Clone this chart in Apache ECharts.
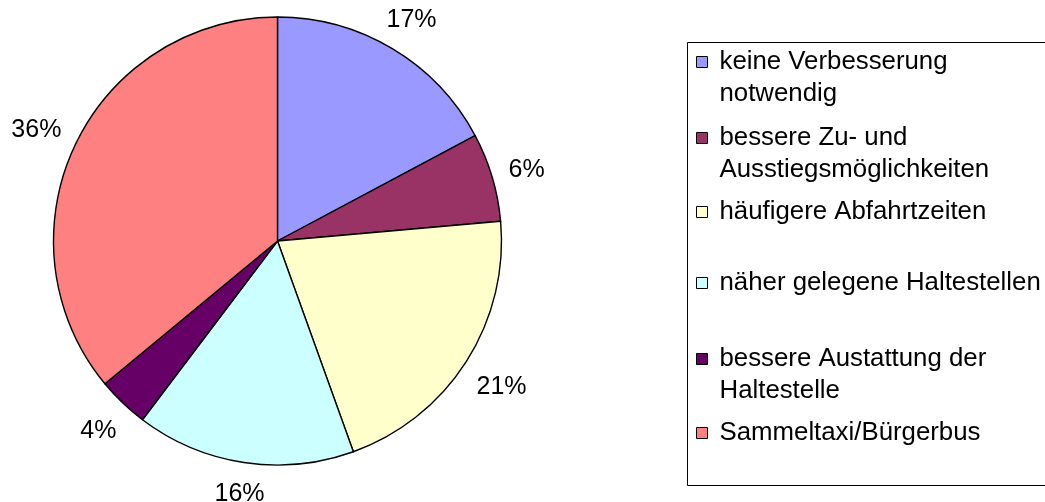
<!DOCTYPE html>
<html>
<head>
<meta charset="utf-8" />
<title>Pie</title>
<script type="text/javascript" src="https://cdn.jsdelivr.net/npm/echarts@6/dist/echarts.min.js"></script>
<style>
  html, body { margin: 0; padding: 0; background: #fff; }
</style>
</head>
<body>
<div id="pie" style="width:1045px; height:502px"></div>
<script type="text/javascript">
// Kategorien und Anteile (im Uhrzeigersinn ab 12 Uhr)
var categories = [
    'keine Verbesserung notwendig',
    'bessere Zu- und Ausstiegsmöglichkeiten',
    'häufigere Abfahrtzeiten',
    'näher gelegene Haltestellen',
    'bessere Austattung der Haltestelle',
    'Sammeltaxi/Bürgerbus'
];
var values = [17.2, 6.4, 20.9, 15.8, 3.7, 36.0];
// Legendentext mit Zeilenumbruch wie im Original
var legendText = [
    'keine Verbesserung\nnotwendig',
    'bessere Zu- und\nAusstiegsmöglichkeiten',
    'häufigere Abfahrtzeiten',
    'näher gelegene Haltestellen',
    'bessere Austattung der\nHaltestelle',
    'Sammeltaxi/Bürgerbus'
];

var colors = ['#9999ff', '#993366', '#ffffcc', '#ccffff', '#660066', '#ff8080'];
var font = 'Liberation Sans, Arial, sans-serif';
var lineH = 32;
var cx = 277.5, cy = 241, R = 224;
// Mitte der Legendensymbole (y)
var legendY = [62, 138, 212, 283, 359, 433];

var myChart = echarts.init(document.getElementById('pie'));

var pieData = [];
var total = 0;
for (var i = 0; i < categories.length; i++) {
    pieData.push({ name: categories[i], value: values[i] });
    total += values[i];
}
// Winkel der Segmentmitte (Grad, ab 12 Uhr im Uhrzeigersinn)
var midAngle = [];
var acc = 0;
for (var k = 0; k < values.length; k++) {
    midAngle.push((acc + values[k] / 2) / total * 360);
    acc += values[k];
}

// eine Legende je Eintrag, damit die Abstaende wie im Original sind
var legends = [];
for (var j = 0; j < categories.length; j++) {
    var twoLines = legendText[j].indexOf('\n') >= 0;
    legends.push({
        data: [categories[j]],
        orient: 'vertical',
        left: 696,
        top: legendY[j] - (twoLines ? lineH * 1.5 : lineH / 2),
        padding: 0,
        itemWidth: 11,
        itemHeight: 11,
        icon: 'rect',
        selectedMode: false,
        itemStyle: { borderColor: '#000', borderWidth: 1 },
        // leere erste Zeile, damit die erste Textzeile neben dem Symbol steht
        formatter: (function (t, two) {
            return function () { return two ? '\u00a0\n' + t : t; };
        })(legendText[j], twoLines),
        textStyle: {
            fontFamily: font,
            fontSize: 25.8,
            color: '#000',
            lineHeight: lineH,
            padding: [0, 0, 0, 7]
        }
    });
}

myChart.setOption({
    color: colors,
    animation: false,
    legend: legends,
    graphic: [{
        type: 'rect',
        shape: { x: 687.5, y: 42.5, width: 400, height: 443 },
        style: { fill: 'none', stroke: '#000', lineWidth: 1 },
        silent: true
    }],
    series: [{
        type: 'pie',
        center: [cx, cy],
        radius: R,
        startAngle: 90,
        clockwise: true,
        avoidLabelOverlap: false,
        data: pieData,
        itemStyle: { borderColor: '#000', borderWidth: 1.4 },
        label: {
            position: 'outside',
            formatter: function (p) { return Math.round(p.percent) + '%'; },
            fontFamily: font,
            fontSize: 25,
            color: '#000'
        },
        labelLine: { show: false },
        labelLayout: function (p) {
            var a = midAngle[p.dataIndex] * Math.PI / 180;
            var s = Math.sin(a), c = Math.cos(a);
            var w = p.labelRect.width;
            var d = R + 16 + w / 2 * Math.abs(s) + 9 * Math.abs(c);
            return {
                x: cx + d * s,
                y: cy - d * c + 3,
                align: 'center',
                verticalAlign: 'middle'
            };
        },
        emphasis: { disabled: true }
    }]
});
</script>
</body>
</html>
